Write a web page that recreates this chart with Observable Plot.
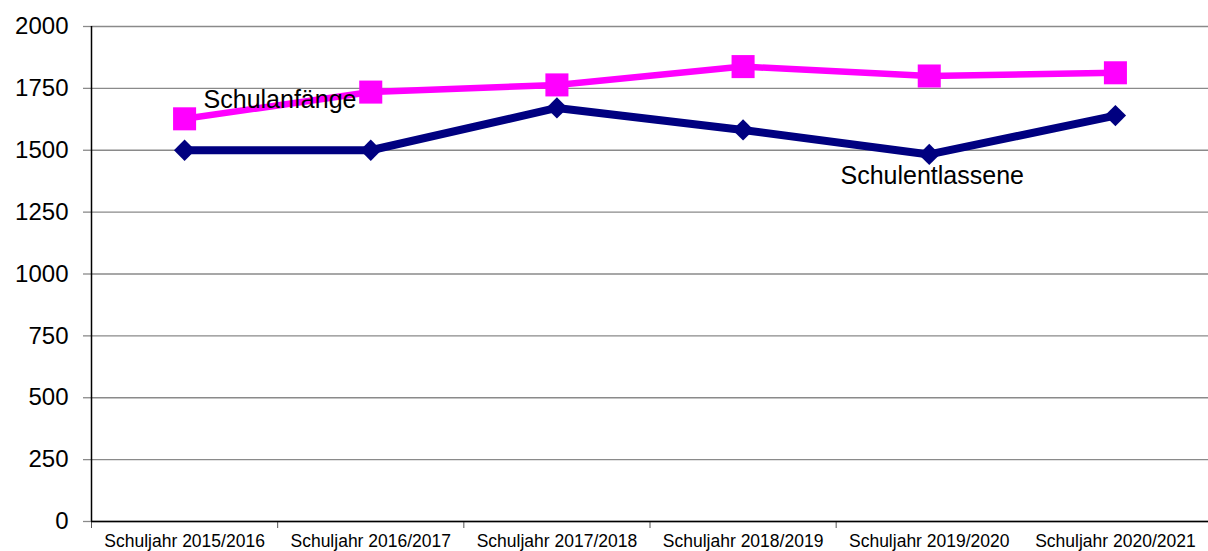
<!DOCTYPE html>
<html>
<head>
<meta charset="utf-8">
<script src="https://cdn.jsdelivr.net/npm/d3@7"></script>
<script src="https://cdn.jsdelivr.net/npm/@observablehq/plot@0.6"></script>
<style>
  html, body { margin: 0; padding: 0; background: #fff; }
</style>
</head>
<body>
<div id="chart"></div>
<script>
const categories = [
  "Schuljahr 2015/2016",
  "Schuljahr 2016/2017",
  "Schuljahr 2017/2018",
  "Schuljahr 2018/2019",
  "Schuljahr 2019/2020",
  "Schuljahr 2020/2021"
];
const schulanfaenge = [1627, 1735, 1764, 1838, 1800, 1813];
const schulentlassene = [1500, 1500, 1671, 1582, 1483, 1640];
const yTicks = [0, 250, 500, 750, 1000, 1250, 1500, 1750, 2000];
const seriesNames = ["Schulanfänge", "Schulentlassene"];

const idx = d3.range(categories.length);
const anf = idx.map(i => ({i, v: schulanfaenge[i]}));
const ent = idx.map(i => ({i, v: schulentlassene[i]}));
const boundaries = idx.slice(0, -1).map(i => i - 0.5);

const chart = Plot.plot({
  width: 1208,
  height: 551,
  marginLeft: 91,
  marginRight: 0,
  marginTop: 26,
  marginBottom: 30,
  style: { fontFamily: "'Liberation Sans', Arial, sans-serif", background: "#fff", color: "#000" },
  x: { type: "linear", domain: [-0.5, categories.length - 0.5] },
  y: { domain: [0, 2000] },
  marks: [
    Plot.gridY(yTicks, { stroke: "#8a8a8a", strokeOpacity: 1, strokeWidth: 1.3 }),
    Plot.axisY({ ticks: yTicks, tickSize: 8, tickPadding: 15, fontSize: 24, stroke: "#8a8a8a", strokeWidth: 1.3, label: null, fill: "#000", tickFormat: d => String(d) }),
    Plot.axisX({ ticks: boundaries, tickSize: 7, tickFormat: () => "", stroke: "#555", label: null }),
    Plot.axisX({ ticks: idx, tickSize: 0, tickPadding: 13, fontSize: 17.5, tickFormat: i => categories[i], label: null, fill: "#000" }),
    Plot.ruleX([-0.5], { stroke: "#000", strokeWidth: 1.5 }),
    Plot.ruleY([0], { stroke: "#000", strokeWidth: 1.5 }),
    Plot.line(anf, { x: "i", y: "v", stroke: "#ff00ff", strokeWidth: 6.5 }),
    Plot.dot(anf, { x: "i", y: "v", symbol: "square", r: 13, fill: "#ff00ff", stroke: "none" }),
    Plot.line(ent, { x: "i", y: "v", stroke: "#000080", strokeWidth: 8 }),
    Plot.dot(ent, { x: "i", y: "v", symbol: "diamond2", r: 9.6, fill: "#000080", stroke: "none" }),
    Plot.text([seriesNames[0]], { x: [0], y: [schulanfaenge[0]], text: d => d, textAnchor: "start", dx: 19, dy: -19, fontSize: 25, fill: "#000" }),
    Plot.text([seriesNames[1]], { x: [4], y: [schulentlassene[4]], text: d => d, textAnchor: "middle", dx: 3, dy: 22, fontSize: 25, fill: "#000" })
  ]
});
document.getElementById("chart").appendChild(chart);
</script>
</body>
</html>
